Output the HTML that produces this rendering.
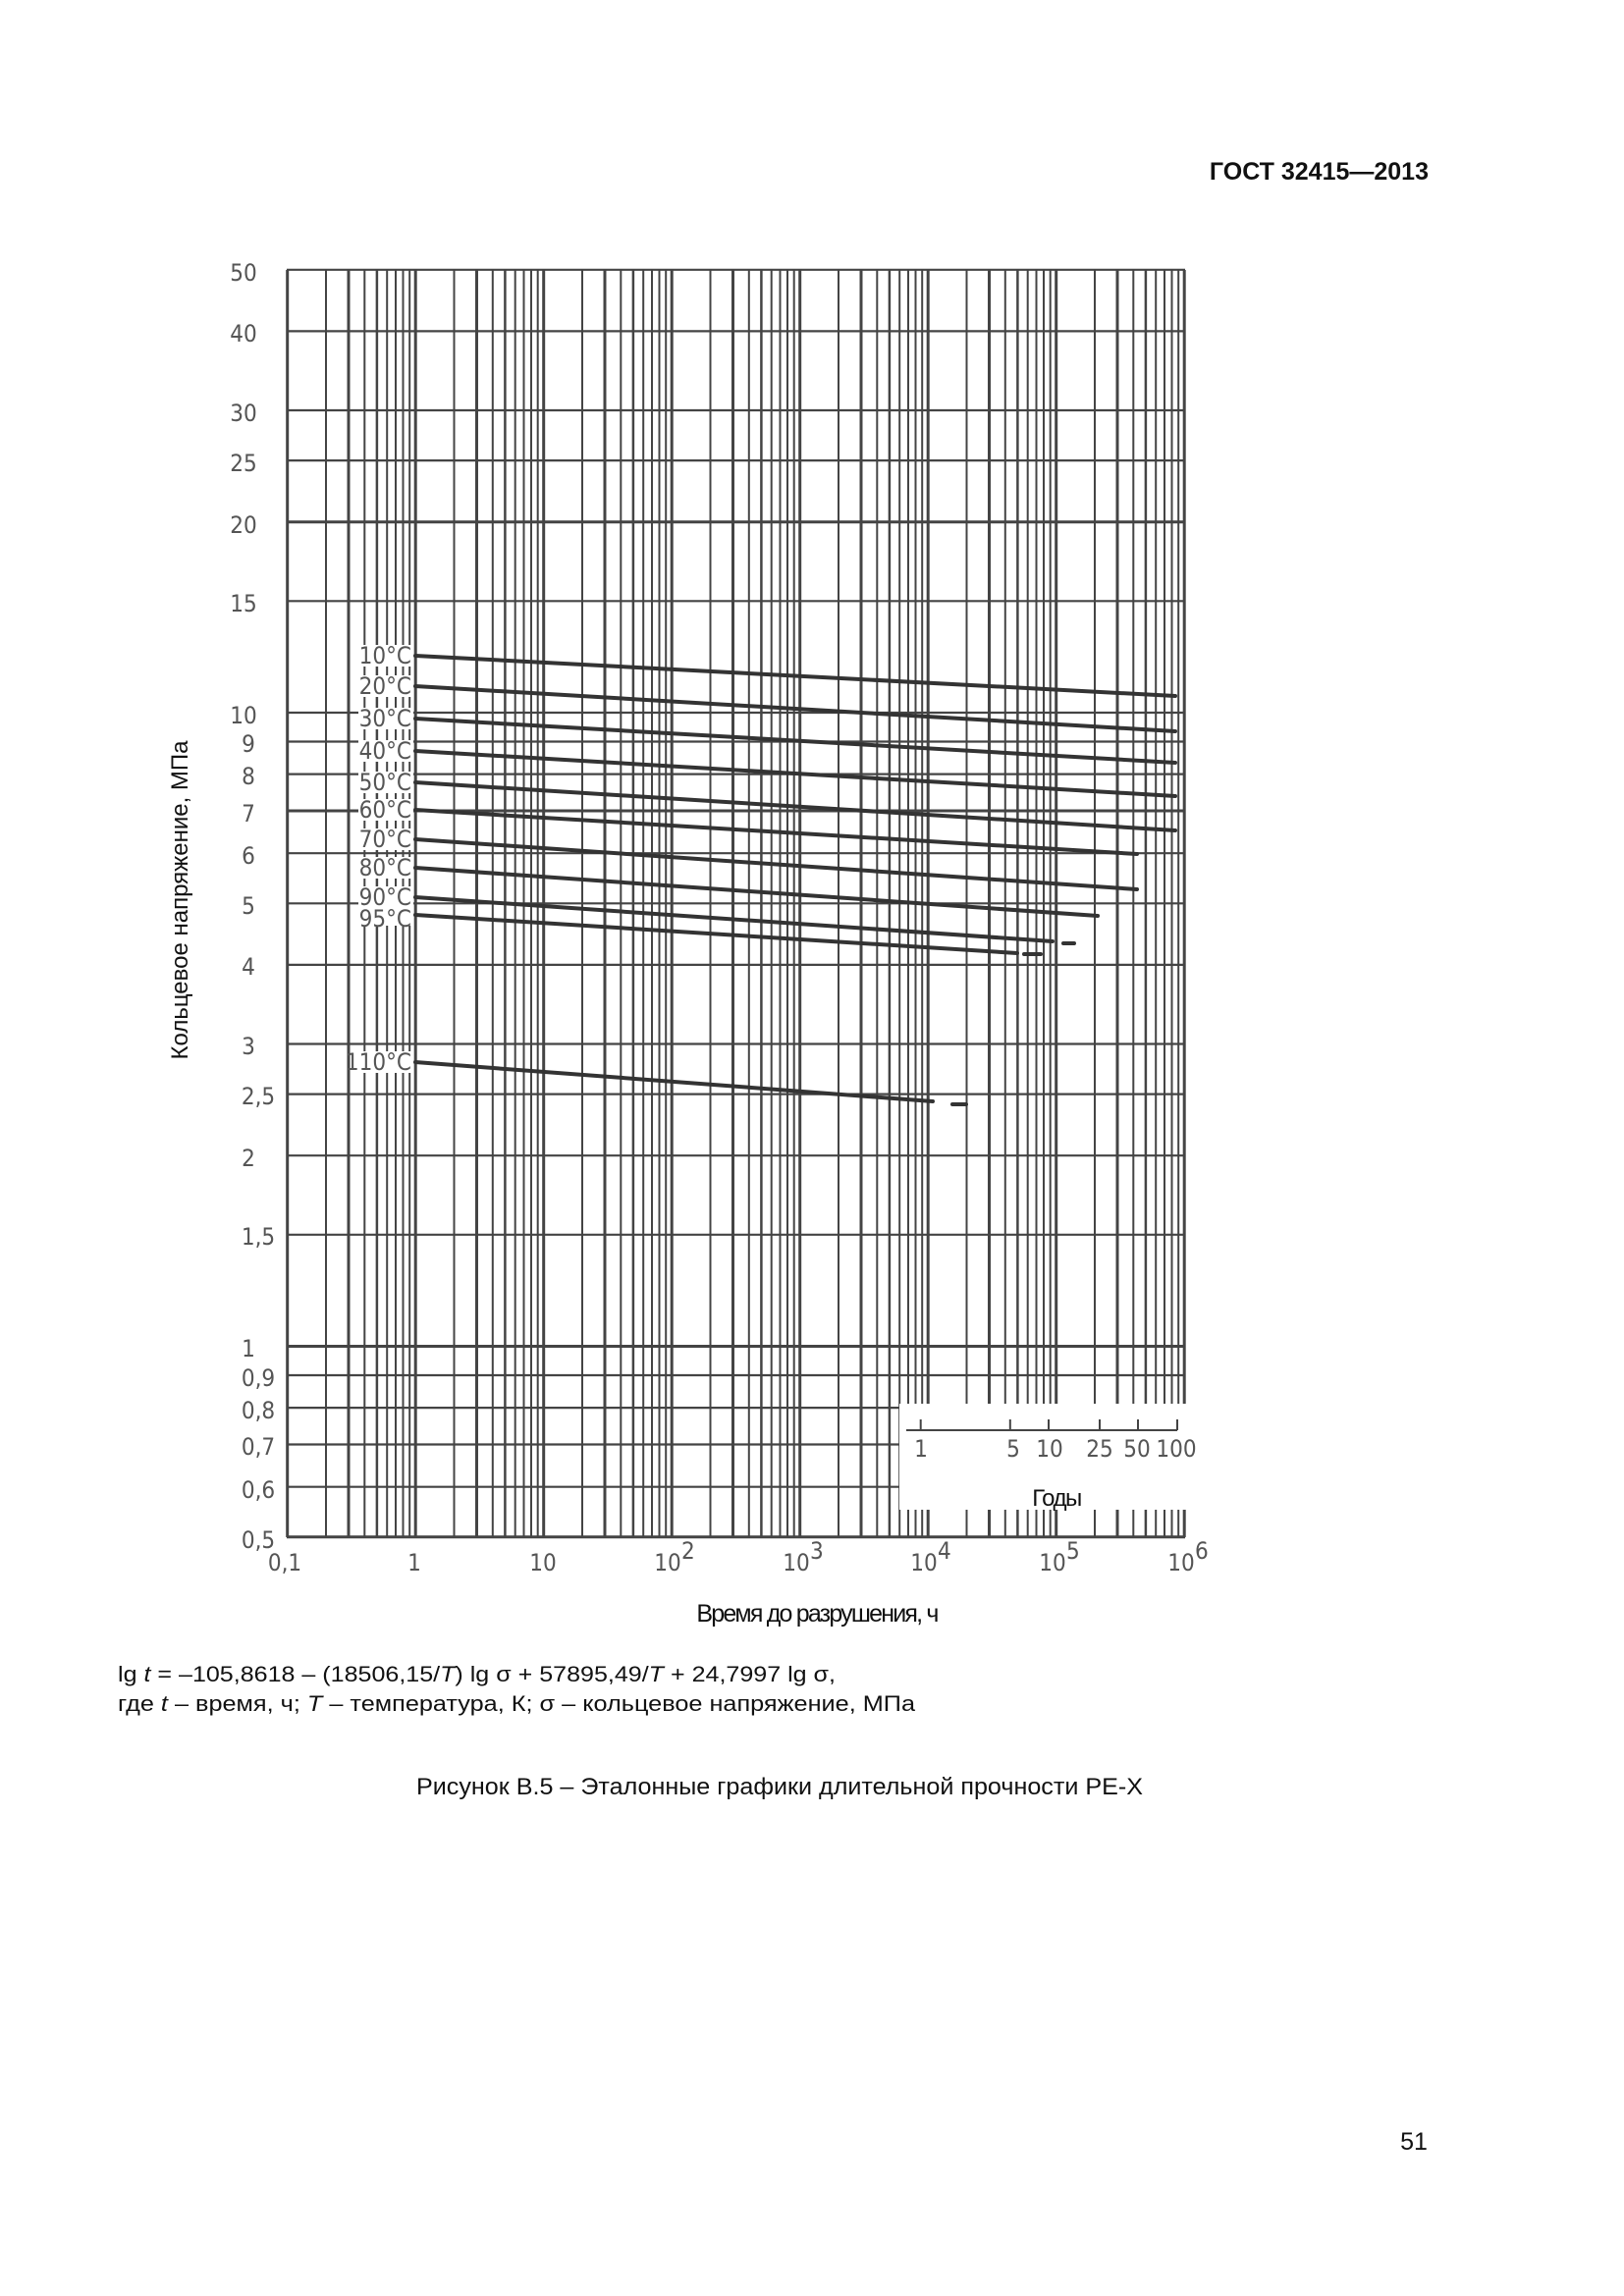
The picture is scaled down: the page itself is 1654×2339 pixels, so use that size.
<!DOCTYPE html>
<html><head><meta charset="utf-8"><style>
html,body{margin:0;padding:0;background:#fff}
svg{display:block}
.ax{font-family:"DejaVu Sans",sans-serif;font-stretch:condensed;fill:#555;font-size:24px}
.tx{font-family:"Liberation Sans",sans-serif;fill:#111}
</style></head><body>
<svg width="1654" height="2339" viewBox="0 0 1654 2339" xmlns="http://www.w3.org/2000/svg">
<rect width="1654" height="2339" fill="#fff"/>
<defs>
<g id="dec" stroke="#444">
<line x1="0" y1="275" x2="0" y2="1566" stroke-width="3"/>
<line x1="39.3" y1="275" x2="39.3" y2="1566" stroke-width="2"/>
<line x1="62.3" y1="275" x2="62.3" y2="1566" stroke-width="3"/>
<line x1="78.6" y1="275" x2="78.6" y2="1566" stroke-width="2"/>
<line x1="91.2" y1="275" x2="91.2" y2="1566" stroke-width="2.5"/>
<line x1="101.5" y1="275" x2="101.5" y2="1566" stroke-width="2"/>
<line x1="110.3" y1="275" x2="110.3" y2="1566" stroke-width="2"/>
<line x1="117.8" y1="275" x2="117.8" y2="1566" stroke-width="2"/>
<line x1="124.5" y1="275" x2="124.5" y2="1566" stroke-width="2"/>
</g>
</defs>
<use href="#dec" x="292.7"/><use href="#dec" x="423.2"/><use href="#dec" x="553.7"/>
<use href="#dec" x="684.2"/><use href="#dec" x="814.7"/><use href="#dec" x="945.2"/>
<use href="#dec" x="1075.7"/>
<line x1="1206.2" y1="275" x2="1206.2" y2="1566" stroke="#444" stroke-width="3"/>
<g stroke="#444" stroke-width="2.2">
<line x1="292" x2="1207" y1="274.8" y2="274.8"/>
<line x1="292" x2="1207" y1="337.4" y2="337.4"/>
<line x1="292" x2="1207" y1="418" y2="418"/>
<line x1="292" x2="1207" y1="469.1" y2="469.1"/>
<line x1="292" x2="1207" y1="531.7" y2="531.7" stroke-width="3"/>
<line x1="292" x2="1207" y1="612.3" y2="612.3"/>
<line x1="292" x2="1207" y1="726" y2="726"/>
<line x1="292" x2="1207" y1="755.5" y2="755.5"/>
<line x1="292" x2="1207" y1="788.6" y2="788.6"/>
<line x1="292" x2="1207" y1="826" y2="826" stroke-width="3"/>
<line x1="292" x2="1207" y1="869.2" y2="869.2"/>
<line x1="292" x2="1207" y1="920.3" y2="920.3"/>
<line x1="292" x2="1207" y1="982.9" y2="982.9"/>
<line x1="292" x2="1207" y1="1063.5" y2="1063.5"/>
<line x1="292" x2="1207" y1="1114.6" y2="1114.6"/>
<line x1="292" x2="1207" y1="1177.2" y2="1177.2"/>
<line x1="292" x2="1207" y1="1257.8" y2="1257.8"/>
<line x1="292" x2="1207" y1="1371.5" y2="1371.5" stroke-width="3"/>
<line x1="292" x2="1207" y1="1401" y2="1401"/>
<line x1="292" x2="1207" y1="1434.1" y2="1434.1"/>
<line x1="292" x2="1207" y1="1471.5" y2="1471.5"/>
<line x1="292" x2="1207" y1="1514.7" y2="1514.7"/>
<line x1="292" x2="1207" y1="1565.8" y2="1565.8" stroke-width="3"/>
</g>
<rect x="916" y="1430" width="300" height="108" fill="#fff"/>
<g stroke="#444" stroke-width="2">
<line x1="923" y1="1457" x2="1199" y2="1457"/>
<line x1="937.7" y1="1446" x2="937.7" y2="1457"/>
<line x1="1028.8" y1="1446" x2="1028.8" y2="1457"/>
<line x1="1068" y1="1446" x2="1068" y2="1457"/>
<line x1="1120" y1="1446" x2="1120" y2="1457"/>
<line x1="1159" y1="1446" x2="1159" y2="1457"/>
<line x1="1199" y1="1446" x2="1199" y2="1457"/>
</g>
<g class="ax" text-anchor="middle" font-size="22">
<text x="938" y="1484">1</text><text x="1032" y="1484">5</text><text x="1069" y="1484">10</text>
<text x="1120" y="1484">25</text><text x="1158" y="1484">50</text><text x="1198" y="1484">100</text>
</g>
<text class="tx" x="1076" y="1534" font-size="24" text-anchor="middle" letter-spacing="-1.5">Годы</text>
<g fill="#fff">
<rect x="365" y="657" width="56" height="22"/><rect x="365" y="688" width="56" height="22"/>
<rect x="365" y="721" width="56" height="22"/><rect x="365" y="754" width="56" height="22"/>
<rect x="365" y="786" width="56" height="22"/><rect x="365" y="814" width="56" height="22"/>
<rect x="365" y="844" width="56" height="22"/><rect x="365" y="873" width="56" height="22"/>
<rect x="365" y="903" width="56" height="22"/><rect x="365" y="921" width="56" height="22"/>
<rect x="362" y="1071" width="59" height="22"/>
</g>
<g class="ax" font-size="23" text-anchor="end" fill="#444">
<text x="419" y="676">10°C</text><text x="419" y="707">20°C</text><text x="419" y="740">30°C</text>
<text x="419" y="773">40°C</text><text x="419" y="805">50°C</text><text x="419" y="833">60°C</text>
<text x="419" y="863">70°C</text><text x="419" y="892">80°C</text><text x="419" y="922">90°C</text>
<text x="419" y="944">95°C</text><text x="419" y="1090">110°C</text>
</g>
<g stroke="#333" stroke-width="4" stroke-linecap="round">
<line x1="423" y1="668" x2="1197" y2="709"/>
<line x1="423" y1="699" x2="1197" y2="745"/>
<line x1="423" y1="732" x2="1197" y2="777"/>
<line x1="423" y1="765" x2="1197" y2="811"/>
<line x1="423" y1="797" x2="1197" y2="846"/>
<line x1="423" y1="825" x2="1158" y2="870"/>
<line x1="423" y1="855" x2="1158" y2="906"/>
<line x1="423" y1="884" x2="1118" y2="933"/>
<line x1="423" y1="914" x2="1072" y2="959"/>
<line x1="1083" y1="961" x2="1094" y2="961"/>
<line x1="423" y1="932" x2="1036" y2="971"/>
<line x1="1043" y1="972" x2="1060" y2="972"/>
<line x1="423" y1="1082" x2="950" y2="1122"/>
<line x1="970" y1="1125" x2="984" y2="1125"/>
</g>
<g class="ax" text-anchor="middle">
<text x="248" y="286">50</text><text x="248" y="348">40</text><text x="248" y="429">30</text>
<text x="248" y="480">25</text><text x="248" y="543">20</text><text x="248" y="623">15</text>
<text x="248" y="737">10</text><text x="253" y="766">9</text><text x="253" y="799">8</text>
<text x="253" y="837">7</text><text x="253" y="880">6</text><text x="253" y="931">5</text>
<text x="253" y="993">4</text><text x="253" y="1074">3</text><text x="263" y="1125">2,5</text>
<text x="253" y="1188">2</text><text x="263" y="1268">1,5</text><text x="253" y="1382">1</text>
<text x="263" y="1412">0,9</text><text x="263" y="1445">0,8</text><text x="263" y="1482">0,7</text>
<text x="263" y="1526">0,6</text><text x="263" y="1577">0,5</text>
</g>
<g class="ax" text-anchor="middle" font-size="22">
<text x="290" y="1600">0,1</text><text x="422" y="1600">1</text><text x="553" y="1600">10</text>
<text x="680" y="1600">10</text><text x="811" y="1600">10</text><text x="941" y="1600">10</text>
<text x="1072" y="1600">10</text><text x="1203" y="1600">10</text>
</g>
<g class="ax" font-size="14">
<text x="694" y="1588">2</text><text x="825" y="1588">3</text><text x="955" y="1588">4</text>
<text x="1086" y="1588">5</text><text x="1217" y="1588">6</text>
</g>
<text class="tx" x="832" y="1652" font-size="25" text-anchor="middle" letter-spacing="-1.8">Время до разрушения, ч</text>
<text class="tx" transform="translate(191,917) rotate(-90)" font-size="24" text-anchor="middle">Кольцевое напряжение, МПа</text>
<text class="tx" x="1455" y="183" font-size="25" font-weight="bold" text-anchor="end">ГОСТ 32415—2013</text>
<text class="tx" x="120" y="1713" font-size="22" textLength="731" lengthAdjust="spacingAndGlyphs">lg <tspan font-style="italic">t</tspan> = –105,8618 – (18506,15/<tspan font-style="italic">T</tspan>) lg σ + 57895,49/<tspan font-style="italic">T</tspan> + 24,7997 lg σ,</text>
<text class="tx" x="120" y="1743" font-size="22" textLength="812" lengthAdjust="spacingAndGlyphs">где <tspan font-style="italic">t</tspan> – время, ч; <tspan font-style="italic">T</tspan> – температура, К; σ – кольцевое напряжение, МПа</text>
<text class="tx" x="794" y="1828" font-size="24" text-anchor="middle" textLength="740" lengthAdjust="spacingAndGlyphs">Рисунок В.5 – Эталонные графики длительной прочности PE-X</text>
<text class="tx" x="1440" y="2190" font-size="25" text-anchor="middle">51</text>
</svg>
</body></html>
